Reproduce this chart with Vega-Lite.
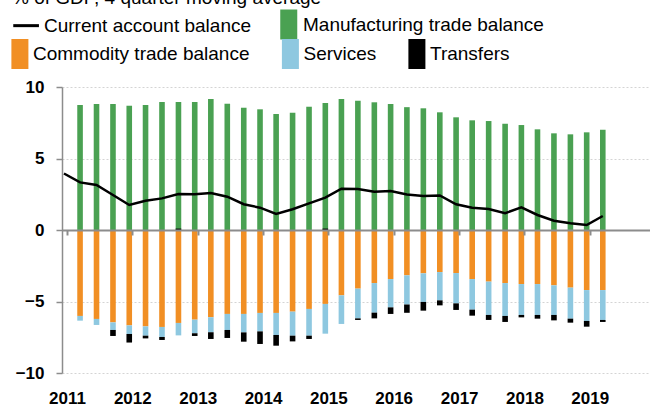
{
"$schema": "https://vega.github.io/schema/vega-lite/v6.json",
"width": 588, "height": 286,
"autosize": {"type": "none"},
"padding": {"left": 62, "top": 87, "right": 0, "bottom": 34},
"background": "white",
"config": {"view": {"stroke": null}, "font": "Liberation Sans"},
"title": {"text": "% of GDP, 4 quarter moving average", "anchor": "start", "frame": "group", "orient": "top", "baseline": "alphabetic", "offset": 0, "dy": 13, "dx": -50, "fontSize": 19, "fontWeight": "normal", "font": "Liberation Sans", "color": "black"},
"datasets": {
"mfg": [
{"date":"2011-03-15","series":"Manufacturing trade balance","value":8.74},
{"date":"2011-06-15","series":"Manufacturing trade balance","value":8.81},
{"date":"2011-09-15","series":"Manufacturing trade balance","value":8.81},
{"date":"2011-12-15","series":"Manufacturing trade balance","value":8.69},
{"date":"2012-03-15","series":"Manufacturing trade balance","value":8.74},
{"date":"2012-06-15","series":"Manufacturing trade balance","value":8.95},
{"date":"2012-09-15","series":"Manufacturing trade balance","value":8.95},
{"date":"2012-12-15","series":"Manufacturing trade balance","value":8.95},
{"date":"2013-03-15","series":"Manufacturing trade balance","value":9.16},
{"date":"2013-06-15","series":"Manufacturing trade balance","value":8.83},
{"date":"2013-09-15","series":"Manufacturing trade balance","value":8.55},
{"date":"2013-12-15","series":"Manufacturing trade balance","value":8.44},
{"date":"2014-03-15","series":"Manufacturing trade balance","value":8.11},
{"date":"2014-06-15","series":"Manufacturing trade balance","value":8.2},
{"date":"2014-09-15","series":"Manufacturing trade balance","value":8.62},
{"date":"2014-12-15","series":"Manufacturing trade balance","value":8.88},
{"date":"2015-03-15","series":"Manufacturing trade balance","value":9.16},
{"date":"2015-06-15","series":"Manufacturing trade balance","value":9.04},
{"date":"2015-09-15","series":"Manufacturing trade balance","value":8.93},
{"date":"2015-12-15","series":"Manufacturing trade balance","value":8.81},
{"date":"2016-03-15","series":"Manufacturing trade balance","value":8.59},
{"date":"2016-06-15","series":"Manufacturing trade balance","value":8.51},
{"date":"2016-09-15","series":"Manufacturing trade balance","value":8.23},
{"date":"2016-12-15","series":"Manufacturing trade balance","value":7.88},
{"date":"2017-03-15","series":"Manufacturing trade balance","value":7.67},
{"date":"2017-06-15","series":"Manufacturing trade balance","value":7.62},
{"date":"2017-09-15","series":"Manufacturing trade balance","value":7.43},
{"date":"2017-12-15","series":"Manufacturing trade balance","value":7.34},
{"date":"2018-03-15","series":"Manufacturing trade balance","value":7.04},
{"date":"2018-06-15","series":"Manufacturing trade balance","value":6.76},
{"date":"2018-09-15","series":"Manufacturing trade balance","value":6.69},
{"date":"2018-12-15","series":"Manufacturing trade balance","value":6.83},
{"date":"2019-03-15","series":"Manufacturing trade balance","value":7.01}
],
"ca": [
{"date":"2010-12-15","series":"Current account balance","value":3.95},
{"date":"2011-03-15","series":"Current account balance","value":3.33},
{"date":"2011-06-15","series":"Current account balance","value":3.15},
{"date":"2011-09-15","series":"Current account balance","value":2.45},
{"date":"2011-12-15","series":"Current account balance","value":1.75},
{"date":"2012-03-15","series":"Current account balance","value":2.05},
{"date":"2012-06-15","series":"Current account balance","value":2.21},
{"date":"2012-09-15","series":"Current account balance","value":2.52},
{"date":"2012-12-15","series":"Current account balance","value":2.5},
{"date":"2013-03-15","series":"Current account balance","value":2.58},
{"date":"2013-06-15","series":"Current account balance","value":2.33},
{"date":"2013-09-15","series":"Current account balance","value":1.8},
{"date":"2013-12-15","series":"Current account balance","value":1.56},
{"date":"2014-03-15","series":"Current account balance","value":1.12},
{"date":"2014-06-15","series":"Current account balance","value":1.45},
{"date":"2014-09-15","series":"Current account balance","value":1.86},
{"date":"2014-12-15","series":"Current account balance","value":2.26},
{"date":"2015-03-15","series":"Current account balance","value":2.89},
{"date":"2015-06-15","series":"Current account balance","value":2.87},
{"date":"2015-09-15","series":"Current account balance","value":2.68},
{"date":"2015-12-15","series":"Current account balance","value":2.73},
{"date":"2016-03-15","series":"Current account balance","value":2.48},
{"date":"2016-06-15","series":"Current account balance","value":2.38},
{"date":"2016-09-15","series":"Current account balance","value":2.42},
{"date":"2016-12-15","series":"Current account balance","value":1.8},
{"date":"2017-03-15","series":"Current account balance","value":1.56},
{"date":"2017-06-15","series":"Current account balance","value":1.47},
{"date":"2017-09-15","series":"Current account balance","value":1.17},
{"date":"2017-12-15","series":"Current account balance","value":1.59},
{"date":"2018-03-15","series":"Current account balance","value":1.05},
{"date":"2018-06-15","series":"Current account balance","value":0.65},
{"date":"2018-09-15","series":"Current account balance","value":0.47},
{"date":"2018-12-15","series":"Current account balance","value":0.35},
{"date":"2019-03-15","series":"Current account balance","value":0.98}
],
"ext": [
{"date":"2011-03-15","series":"Commodity trade balance","value":-6.01},{"date":"2011-03-15","series":"Services","value":-0.33},{"date":"2011-03-15","series":"Transfers","value":0},
{"date":"2011-06-15","series":"Commodity trade balance","value":-6.22},{"date":"2011-06-15","series":"Services","value":-0.42},{"date":"2011-06-15","series":"Transfers","value":0},
{"date":"2011-09-15","series":"Commodity trade balance","value":-6.46},{"date":"2011-09-15","series":"Services","value":-0.53},{"date":"2011-09-15","series":"Transfers","value":-0.42},
{"date":"2011-12-15","series":"Commodity trade balance","value":-6.67},{"date":"2011-12-15","series":"Services","value":-0.6},{"date":"2011-12-15","series":"Transfers","value":-0.6},
{"date":"2012-03-15","series":"Commodity trade balance","value":-6.74},{"date":"2012-03-15","series":"Services","value":-0.65},{"date":"2012-03-15","series":"Transfers","value":-0.19},
{"date":"2012-06-15","series":"Commodity trade balance","value":-6.78},{"date":"2012-06-15","series":"Services","value":-0.7},{"date":"2012-06-15","series":"Transfers","value":-0.21},
{"date":"2012-09-15","series":"Commodity trade balance","value":-6.5},{"date":"2012-09-15","series":"Services","value":-0.87},{"date":"2012-09-15","series":"Transfers","value":0.1},
{"date":"2012-12-15","series":"Commodity trade balance","value":-6.27},{"date":"2012-12-15","series":"Services","value":-0.95},{"date":"2012-12-15","series":"Transfers","value":-0.19},
{"date":"2013-03-15","series":"Commodity trade balance","value":-6.1},{"date":"2013-03-15","series":"Services","value":-1.05},{"date":"2013-03-15","series":"Transfers","value":-0.47},
{"date":"2013-06-15","series":"Commodity trade balance","value":-5.87},{"date":"2013-06-15","series":"Services","value":-1.12},{"date":"2013-06-15","series":"Transfers","value":-0.56},
{"date":"2013-09-15","series":"Commodity trade balance","value":-5.87},{"date":"2013-09-15","series":"Services","value":-1.29},{"date":"2013-09-15","series":"Transfers","value":-0.65},
{"date":"2013-12-15","series":"Commodity trade balance","value":-5.8},{"date":"2013-12-15","series":"Services","value":-1.29},{"date":"2013-12-15","series":"Transfers","value":-0.88},
{"date":"2014-03-15","series":"Commodity trade balance","value":-5.8},{"date":"2014-03-15","series":"Services","value":-1.54},{"date":"2014-03-15","series":"Transfers","value":-0.75},
{"date":"2014-06-15","series":"Commodity trade balance","value":-5.71},{"date":"2014-06-15","series":"Services","value":-1.68},{"date":"2014-06-15","series":"Transfers","value":-0.4},
{"date":"2014-09-15","series":"Commodity trade balance","value":-5.52},{"date":"2014-09-15","series":"Services","value":-1.87},{"date":"2014-09-15","series":"Transfers","value":-0.23},
{"date":"2014-12-15","series":"Commodity trade balance","value":-5.17},{"date":"2014-12-15","series":"Services","value":-2.08},{"date":"2014-12-15","series":"Transfers","value":0.1},
{"date":"2015-03-15","series":"Commodity trade balance","value":-4.57},{"date":"2015-03-15","series":"Services","value":-2.0},{"date":"2015-03-15","series":"Transfers","value":0},
{"date":"2015-06-15","series":"Commodity trade balance","value":-4.1},{"date":"2015-06-15","series":"Services","value":-2.08},{"date":"2015-06-15","series":"Transfers","value":-0.11},
{"date":"2015-09-15","series":"Commodity trade balance","value":-3.71},{"date":"2015-09-15","series":"Services","value":-2.07},{"date":"2015-09-15","series":"Transfers","value":-0.4},
{"date":"2015-12-15","series":"Commodity trade balance","value":-3.43},{"date":"2015-12-15","series":"Services","value":-1.98},{"date":"2015-12-15","series":"Transfers","value":-0.46},
{"date":"2016-03-15","series":"Commodity trade balance","value":-3.17},{"date":"2016-03-15","series":"Services","value":-2.04},{"date":"2016-03-15","series":"Transfers","value":-0.58},
{"date":"2016-06-15","series":"Commodity trade balance","value":-3.03},{"date":"2016-06-15","series":"Services","value":-2.0},{"date":"2016-06-15","series":"Transfers","value":-0.61},
{"date":"2016-09-15","series":"Commodity trade balance","value":-2.94},{"date":"2016-09-15","series":"Services","value":-1.98},{"date":"2016-09-15","series":"Transfers","value":-0.35},
{"date":"2016-12-15","series":"Commodity trade balance","value":-3.01},{"date":"2016-12-15","series":"Services","value":-2.12},{"date":"2016-12-15","series":"Transfers","value":-0.46},
{"date":"2017-03-15","series":"Commodity trade balance","value":-3.43},{"date":"2017-03-15","series":"Services","value":-2.14},{"date":"2017-03-15","series":"Transfers","value":-0.42},
{"date":"2017-06-15","series":"Commodity trade balance","value":-3.61},{"date":"2017-06-15","series":"Services","value":-2.33},{"date":"2017-06-15","series":"Transfers","value":-0.35},
{"date":"2017-09-15","series":"Commodity trade balance","value":-3.71},{"date":"2017-09-15","series":"Services","value":-2.3},{"date":"2017-09-15","series":"Transfers","value":-0.42},
{"date":"2017-12-15","series":"Commodity trade balance","value":-3.78},{"date":"2017-12-15","series":"Services","value":-2.16},{"date":"2017-12-15","series":"Transfers","value":-0.17},
{"date":"2018-03-15","series":"Commodity trade balance","value":-3.78},{"date":"2018-03-15","series":"Services","value":-2.16},{"date":"2018-03-15","series":"Transfers","value":-0.26},
{"date":"2018-06-15","series":"Commodity trade balance","value":-3.87},{"date":"2018-06-15","series":"Services","value":-2.07},{"date":"2018-06-15","series":"Transfers","value":-0.38},
{"date":"2018-09-15","series":"Commodity trade balance","value":-4.03},{"date":"2018-09-15","series":"Services","value":-2.17},{"date":"2018-09-15","series":"Transfers","value":-0.28},
{"date":"2018-12-15","series":"Commodity trade balance","value":-4.2},{"date":"2018-12-15","series":"Services","value":-2.16},{"date":"2018-12-15","series":"Transfers","value":-0.4},
{"date":"2019-03-15","series":"Commodity trade balance","value":-4.2},{"date":"2019-03-15","series":"Services","value":-2.09},{"date":"2019-03-15","series":"Transfers","value":-0.14}
]
},
"layer": [
{
"data": {"name": "mfg"},
"mark": {"type": "bar", "size": 5.6},
"encoding": {
"x": {"field": "date", "type": "temporal", "title": null,
 "scale": {"domain": [{"year": 2011, "month": 1, "date": 1}, {"year": 2019, "month": 11, "date": 6}]},
 "axis": {"orient": "bottom", "domain": false, "ticks": false, "grid": false, "format": "%Y", "tickCount": {"interval": "year", "step": 1}, "labelFontSize": 17, "labelFontWeight": "bold", "labelColor": "black", "labelPadding": 17, "labelFlush": false, "labelOverlap": false, "labelFont": "Liberation Sans"}},
"y": {"field": "value", "type": "quantitative", "title": null,
 "scale": {"domain": [-10, 10], "nice": false},
 "axis": {"values": [-10, -5, 0, 5, 10], "labelFontSize": 17, "labelFontWeight": "bold", "labelColor": "black", "labelPadding": 12, "tickSize": 6, "tickColor": "#8c8c8c", "tickWidth": 1.5, "domainColor": "#8c8c8c", "domainWidth": 1.5, "grid": true, "gridColor": "#d4d4d4", "gridDash": [2, 2], "gridWidth": 1, "labelFont": "Liberation Sans"}},
"fill": {"field": "series", "type": "nominal", "scale": {"range": ["#4aa152"]},
 "legend": {"orient": "none", "legendX": 211.75, "legendY": -77.5, "title": null, "symbolType": "M-0.567,-1H0.567V1H-0.567Z", "symbolSize": 900, "symbolStrokeWidth": 0, "labelOffset": -0.75, "labelFontSize": 19, "labelFont": "Liberation Sans", "labelColor": "black", "padding": 0, "labelLimit": 400,
  "encode": {"symbols": {"update": {"fill": {"value": "#009900"}, "opacity": {"value": 1}}}}}}
}
},
{
"data": {"name": "ext"},
"mark": {"type": "bar", "size": 5.6},
"encoding": {
"x": {"field": "date", "type": "temporal", "title": null, "axis": null},
"y": {"field": "value", "type": "quantitative", "title": null, "stack": "zero"},
"order": {"field": "series", "sort": "ascending"},
"color": {"field": "series", "type": "nominal",
 "scale": {"domain": ["Commodity trade balance", "Services", "Transfers"], "range": ["#f18f24", "#8ec8e0", "#000000"]},
 "legend": {"orient": "none", "direction": "horizontal", "legendX": -57.1, "legendY": -48, "columnPadding": 25.5, "title": null, "symbolType": "M-0.567,-1H0.567V1H-0.567Z", "symbolSize": 900, "symbolStrokeWidth": 0, "labelOffset": -1.9, "labelFontSize": 19, "labelFont": "Liberation Sans", "labelColor": "black", "padding": 0, "labelLimit": 400,
  "encode": {"symbols": {"update": {"fill": {"signal": "datum.value === 'Services' ? '#add8e6' : datum.value === 'Transfers' ? '#000000' : '#ff9900'"}, "opacity": {"value": 1}}}}}}
}
},
{
"data": {"name": "ca"},
"mark": {"type": "line", "strokeWidth": 2.5, "clip": true},
"encoding": {
"x": {"field": "date", "type": "temporal", "title": null,
 "axis": {"orient": "bottom", "offset": -143, "labels": false, "grid": false, "domain": true, "domainColor": "#8c8c8c", "domainWidth": 2, "ticks": true, "tickColor": "#8c8c8c", "tickWidth": 2, "tickSize": 5, "tickCount": {"interval": "year", "step": 1}, "zindex": 1}},
"y": {"field": "value", "type": "quantitative", "title": null},
"stroke": {"field": "series", "type": "nominal", "scale": {"range": ["#000000"]},
 "legend": {"orient": "none", "legendX": -50.4, "legendY": -75.85, "title": null, "symbolType": "stroke", "symbolSize": 660, "symbolStrokeWidth": 3, "labelOffset": 3.4, "labelFontSize": 19, "labelFont": "Liberation Sans", "labelColor": "black", "padding": 0, "labelLimit": 400}}
}
}
],
"resolve": {"axis": {"x": "independent"}}
}
